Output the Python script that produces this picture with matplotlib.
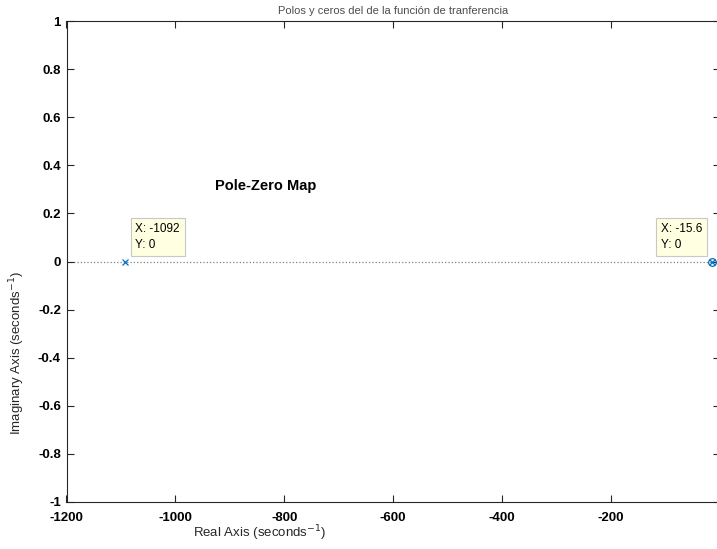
import matplotlib.pyplot as plt

# pole / zero locations of the transfer function
poles_re = [-1092, -15.6]
poles_im = [0, 0]
zeros_re = [-15.6]
zeros_im = [0]

# data tips shown on the plot
tip_x = [-1092, -15.6]
tip_y = [0, 0]
tip_text = ["X: -1092\nY: 0", "X: -15.6\nY: 0"]

xticks = [-1200, -1000, -800, -600, -400, -200]
yticks = [-1, -0.8, -0.6, -0.4, -0.2, 0, 0.2, 0.4, 0.6, 0.8, 1]
ytick_labels = ["-1", "-0.8", "-0.6", "-0.4", "-0.2", "0", "0.2", "0.4", "0.6", "0.8", "1"]

plt.rcParams['font.family'] = ['Liberation Sans', 'DejaVu Sans']

fig = plt.figure(figsize=(7.17, 5.49), dpi=100)
W, H = 717, 549
ax = fig.add_axes([66.5 / W, (H - 502) / H, (720 - 66.5) / W, (502 - 21) / H])

ax.set_xlim(-1200, 0)
ax.set_ylim(-1, 1)

# zero imaginary line
ax.axhline(0, color='#808080', linestyle=':', linewidth=0.9, zorder=1)

blue = '#0072BD'
ax.plot(poles_re, poles_im, 'x', color=blue, markersize=5, markeredgewidth=0.9, zorder=3)
ax.plot(zeros_re, zeros_im, 'o', color=blue, markersize=5.5, markerfacecolor='none',
        markeredgewidth=0.9, zorder=3)

ax.set_xticks(xticks)
ax.set_xticklabels([str(v) for v in xticks], fontweight='bold', fontsize=9.5)
ax.set_yticks(yticks)
ax.set_yticklabels(ytick_labels, fontweight='bold', fontsize=9.5)
ax.tick_params(direction='in', length=5, width=0.8, top=True, right=True, pad=4, colors='#262626')
ax.tick_params(axis='x', pad=7)
for tl in ax.get_xticklabels() + ax.get_yticklabels():
    tl.set_color('black')
for sp in ax.spines.values():
    sp.set_color('#262626')
    sp.set_linewidth(0.8)

ax.set_xlabel("Real Axis (seconds$^{-1}$)", fontsize=9.5, color='#262626')
ax.xaxis.set_label_coords(0.295, -0.045)
ax.set_ylabel("Imaginary Axis (seconds$^{-1}$)", fontsize=9.5, color='#262626')
ax.yaxis.set_label_coords(-0.06, 0.31)

ax.set_title("Polos y ceros del de la función de tranferencia", fontsize=8, color='#4d4d4d',
             pad=5)

ax.text(-835, 0.315, "Pole-Zero Map", fontsize=10.5, fontweight='bold', ha='center', va='center')

# data tip boxes
offsets = [(10, 10), (-9, 10)]
aligns = ['left', 'right']
for x, y, t, off, ha in zip(tip_x, tip_y, tip_text, offsets, aligns):
    ax.annotate(t, xy=(x, y), xytext=off, textcoords='offset pixels', ha=ha, va='bottom',
                multialignment='left', fontsize=8.5, linespacing=1.5,
                bbox=dict(boxstyle='square,pad=0.4', facecolor='#FFFFE1', edgecolor='#c8c8c8',
                          linewidth=0.8), zorder=4)

fig.savefig("out.png", dpi=100)
